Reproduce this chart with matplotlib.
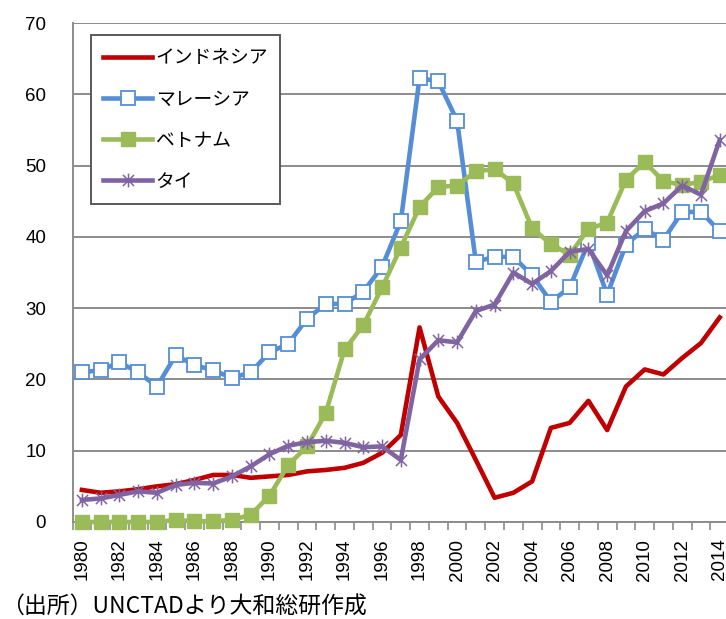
import matplotlib
matplotlib.use("Agg")
import matplotlib.pyplot as plt
from matplotlib.path import Path

plt.rcParams['font.family'] = ['Noto Sans CJK JP', 'DejaVu Sans']

years = list(range(1980, 2015))

indonesia = [4.5, 4.1, 4.3, 4.6, 5.0, 5.3, 5.9, 6.6, 6.6, 6.2, 6.4, 6.6, 7.1, 7.3, 7.6,
             8.3, 9.7, 12.2, 27.3, 17.6, 13.9, 8.7, 3.4, 4.1, 5.7, 13.2, 13.9, 17.0, 12.9,
             19.0, 21.4, 20.7, 23.0, 25.1, 28.7]
malaysia = [21.0, 21.3, 22.4, 21.0, 19.0, 23.4, 22.0, 21.3, 20.2, 21.0, 23.8, 25.0, 28.5,
            30.6, 30.6, 32.3, 35.8, 42.2, 62.3, 61.8, 56.3, 36.5, 37.2, 37.2, 34.6, 30.9,
            32.9, 39.2, 31.9, 38.9, 41.1, 39.6, 43.5, 43.5, 40.8]
vietnam = [0.0, 0.0, 0.0, 0.0, 0.0, 0.3, 0.1, 0.1, 0.3, 1.0, 3.7, 8.0, 10.6, 15.3, 24.2,
           27.6, 32.9, 38.5, 44.2, 47.0, 47.2, 49.2, 49.5, 47.5, 41.2, 39.0, 37.5, 41.1,
           42.0, 48.0, 50.5, 47.8, 47.3, 47.7, 48.7]
thailand = [3.1, 3.3, 3.8, 4.3, 4.1, 5.2, 5.5, 5.4, 6.4, 7.8, 9.5, 10.7, 11.2, 11.4, 11.1,
            10.5, 10.6, 8.7, 22.8, 25.5, 25.2, 29.6, 30.5, 35.0, 33.4, 35.2, 37.9, 38.3,
            34.6, 40.8, 43.6, 44.7, 47.2, 45.9, 53.6]

series_names = ['インドネシア', 'マレーシア', 'ベトナム', 'タイ']
y_ticks = [0, 10, 20, 30, 40, 50, 60, 70]
source_note = '（出所）UNCTADより大和総研作成'

# star marker: an "x" crossed by a vertical stroke
star = Path([(-1, -1), (1, 1), (-1, 1), (1, -1), (0, -1.25), (0, 1.25)],
            [Path.MOVETO, Path.LINETO, Path.MOVETO, Path.LINETO, Path.MOVETO, Path.LINETO])

fig = plt.figure(figsize=(7.26, 6.19), dpi=100)
ax = fig.add_axes([72.5 / 726, (619 - 522) / 619, 656.6 / 726, (522 - 23) / 619])

x = list(range(len(years)))
grid_c = '#8c8c8c'

ax.plot(x, indonesia, color='#C00000', lw=3.3, label=series_names[0],
        solid_joinstyle='round', zorder=3, clip_on=False)
ax.plot(x, malaysia, color='#558ED5', lw=3.3, marker='s', ms=9.5, mfc='white',
        mec='#558ED5', mew=1.3, label=series_names[1], zorder=4, clip_on=False)
ax.plot(x, vietnam, color='#9BBB59', lw=3.3, marker='s', ms=9.5, mfc='#9BBB59',
        mec='#9BBB59', label=series_names[2], zorder=5, clip_on=False)
ax.plot(x, thailand, color='#8064A2', lw=3.3, marker=star, ms=10, mec='#8064A2',
        mew=1.1, label=series_names[3], zorder=6, clip_on=False)

ax.set_xlim(-0.5, len(years) - 0.5)
ax.set_ylim(0, 70)
ax.set_yticks(y_ticks)
ax.yaxis.grid(True, color=grid_c, lw=1.4)
ax.set_axisbelow(True)

ax.set_xticks(x[::2])
ax.set_xticklabels([str(y) for y in years[::2]], rotation=90)
ax.set_xticks([i - 0.5 for i in range(len(years) + 1)], minor=True)
ax.tick_params(axis='x', which='major', length=0, pad=12, labelsize=13.5)
ax.tick_params(axis='x', which='minor', length=5.5, width=1.2, color=grid_c, direction='out')
ax.tick_params(axis='y', length=0, pad=19, labelsize=13.5)
for lbl in ax.get_xticklabels() + ax.get_yticklabels():
    lbl.set_fontfamily(['Liberation Sans', 'DejaVu Sans'])

for s in ['top', 'right']:
    ax.spines[s].set_visible(False)
for s in ['left', 'bottom']:
    ax.spines[s].set_color(grid_c)
    ax.spines[s].set_linewidth(1.4)

leg = ax.legend(loc='upper left', bbox_to_anchor=(91 / 726, 1 - 35 / 619),
                bbox_transform=fig.transFigure, borderaxespad=0, fontsize=13.5,
                handlelength=2.6, handletextpad=0.2, labelspacing=1.08,
                borderpad=0.65, numpoints=1, fancybox=False, framealpha=1)
leg.get_frame().set_edgecolor('#595959')
leg.get_frame().set_linewidth(1.4)

fig.text(1 / 726, 1 - 607 / 619, source_note, fontsize=16.5, va='center', ha='left')

fig.savefig('out.png', dpi=100)
